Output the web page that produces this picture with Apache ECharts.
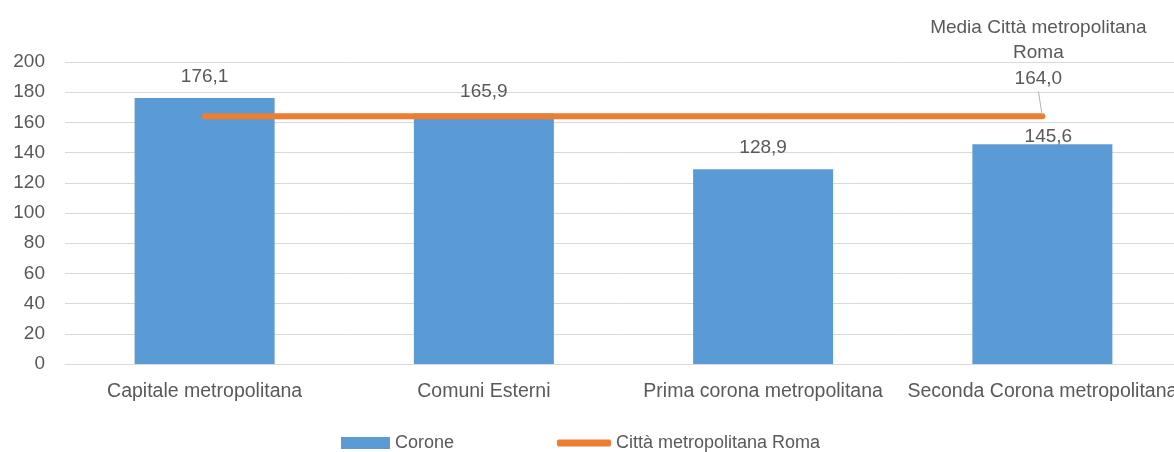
<!DOCTYPE html>
<html>
<head>
<meta charset="utf-8">
<script src="https://cdn.jsdelivr.net/npm/echarts@6/dist/echarts.min.js"></script>
<style>html,body{margin:0;padding:0;background:#fff;overflow:hidden;width:1174px;height:452px}#c{width:1182px;height:452px}</style>
</head>
<body>
<div id="c"></div>
<script>
var categories = ['Capitale metropolitana', 'Comuni Esterni', 'Prima corona metropolitana', 'Seconda Corona metropolitana'];
var coroneValues = [176.1, 165.9, 128.9, 145.6];
var mediaValues = [164.0, 164.0, 164.0, 164.0];
var yTicks = [0, 20, 40, 60, 80, 100, 120, 140, 160, 180, 200];
var seriesNames = ['Corone', 'Città metropolitana Roma'];
var mediaLabelTitle = 'Media Città metropolitana\nRoma';

var FONT = 'Liberation Sans';
var TXT = '#595959';
function fmt(v) { return v.toFixed(1).replace('.', ','); }

var barData = coroneValues.map(function (v, i) {
  var d = { value: v };
  if (i === 3) d.label = { offset: [6, 14] };
  return d;
});
var lineData = mediaValues.map(function (v, i) {
  var d = { value: v };
  if (i === mediaValues.length - 1) {
    d.label = {
      show: true,
      position: 'top',
      distance: 4,
      formatter: function (p) { return mediaLabelTitle + '\n' + fmt(p.value); },
      color: TXT, fontFamily: FONT, fontSize: 19, lineHeight: 25.5, align: 'center'
    };
    d.labelLine = { show: true, lineStyle: { color: '#A6B4C8', width: 1 } };
  }
  return d;
});

var chart = echarts.init(document.getElementById('c'), null, { renderer: 'canvas' });
chart.setOption({
  animation: false,
  grid: { left: 65, right: 0, top: 62, bottom: 88, containLabel: false },
  legend: [
    { data: [seriesNames[0]], left: 341, top: 432, padding: 0, itemWidth: 49, itemHeight: 12, icon: 'rect',
      itemGap: 0, textStyle: { color: TXT, fontFamily: FONT, fontSize: 18, lineHeight: 22 } },
    { data: [seriesNames[1]], left: 557, top: 432, padding: 0, itemWidth: 54, itemHeight: 7, icon: 'roundRect',
      itemGap: 0, textStyle: { color: TXT, fontFamily: FONT, fontSize: 18, lineHeight: 22 } }
  ],
  xAxis: {
    type: 'category', data: categories,
    axisLine: { show: true, lineStyle: { color: '#D9D9D9', width: 1 } },
    axisTick: { show: false },
    axisLabel: { color: TXT, fontFamily: FONT, fontSize: 19.5, margin: 17, interval: 0, lineHeight: 22 }
  },
  yAxis: {
    type: 'value', min: yTicks[0], max: yTicks[yTicks.length - 1], interval: yTicks[1] - yTicks[0],
    axisLine: { show: false }, axisTick: { show: false },
    splitLine: { lineStyle: { color: '#D9D9D9', width: 1 } },
    axisLabel: { color: TXT, fontFamily: FONT, fontSize: 19, margin: 20 }
  },
  series: [
    {
      name: seriesNames[0], type: 'bar', data: barData, barWidth: 140,
      itemStyle: { color: '#5B9BD5' },
      label: { show: true, position: 'top', distance: 12, color: TXT, fontFamily: FONT, fontSize: 19,
        formatter: function (p) { return fmt(p.value); } }
    },
    {
      name: seriesNames[1], type: 'line', data: lineData,
      symbol: 'circle', symbolSize: 2, showSymbol: true,
      itemStyle: { color: '#ED7D31' },
      lineStyle: { color: '#ED7D31', width: 6, cap: 'round' },
      labelLayout: function (p) { return p.dataIndex === 3 ? { dx: -4, dy: -20 } : {}; },
      z: 3
    }
  ]
});
</script>
</body>
</html>
